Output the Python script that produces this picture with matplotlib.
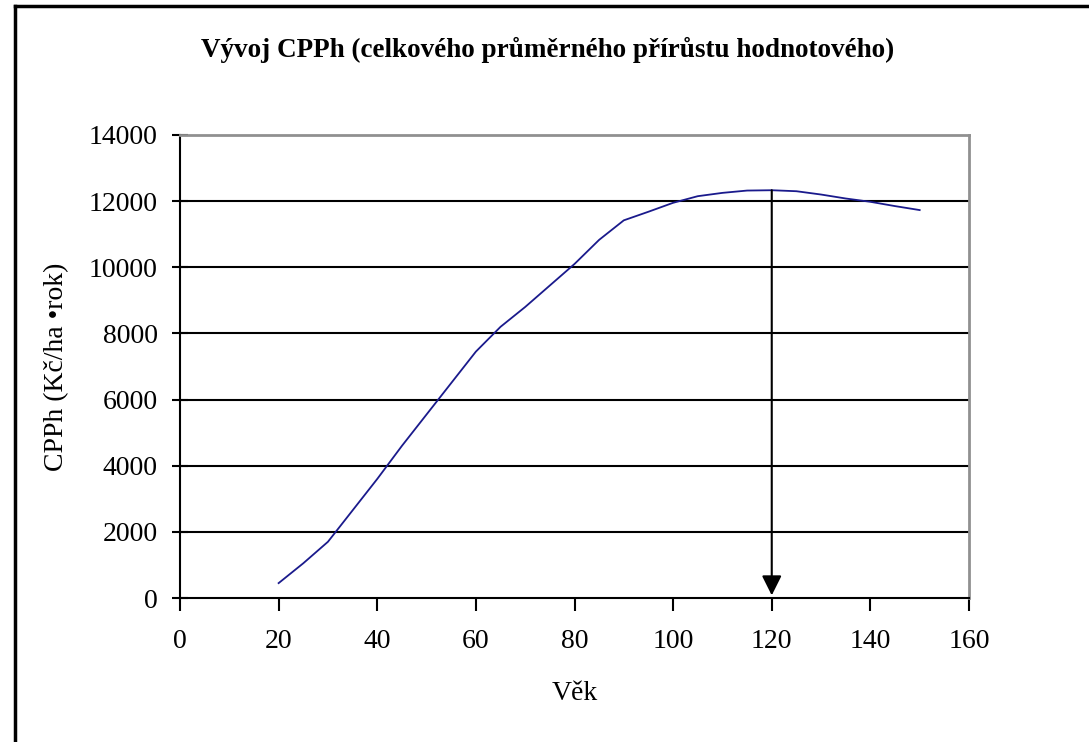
import matplotlib
matplotlib.use("Agg")
import matplotlib.pyplot as plt
from matplotlib.lines import Line2D

plt.rcParams['font.family'] = ['Liberation Serif', 'DejaVu Serif']

vek = [20, 25, 30, 35, 40, 45, 50, 55, 60, 65, 70, 75, 80, 85, 90, 95, 100,
       105, 110, 115, 120, 125, 130, 135, 140, 145, 150]
cpph = [450, 1050, 1700, 2650, 3600, 4600, 5550, 6500, 7450, 8200, 8800, 9450,
        10100, 10830, 11420, 11680, 11950, 12150, 12250, 12320, 12330, 12300,
        12200, 12080, 11980, 11850, 11730]
arrow_x = 120
arrow_top = 12330
xticks = [0, 20, 40, 60, 80, 100, 120, 140, 160]
yticks = [0, 2000, 4000, 6000, 8000, 10000, 12000, 14000]

fig = plt.figure(figsize=(10.89, 7.42), dpi=100)
ax = fig.add_axes([180/1089, 1-598/742, (969-180)/1089, (598-135)/742])

for yv in yticks[1:-1]:
    ax.axhline(yv, color='black', lw=1.5, zorder=1)

ax.plot(vek, cpph, color='#1a1a8c', lw=1.3, zorder=3)
ax.annotate('', xy=(arrow_x, 80), xytext=(arrow_x, arrow_top),
            arrowprops=dict(arrowstyle='-|>,head_length=1.2,head_width=0.6',
                            color='black', lw=1.5, shrinkA=0, shrinkB=0),
            zorder=4)

ax.set_xlim(0, 160)
ax.set_ylim(0, 14000)
ax.set_xticks(xticks)
ax.set_yticks(yticks)
ax.tick_params(axis='y', direction='inout', length=12, width=1.5, labelsize=20, pad=10)
ax.tick_params(axis='x', direction='out', length=9, width=1.5, labelsize=20, pad=13)
for s in ['top', 'right']:
    ax.spines[s].set_color('#909090')
    ax.spines[s].set_linewidth(2)
for s in ['left', 'bottom']:
    ax.spines[s].set_color('black')
    ax.spines[s].set_linewidth(1.5)

ax.set_xlabel('Věk', fontsize=20, labelpad=20)
ax.set_ylabel('CPPh (Kč/ha •rok)', fontsize=20, labelpad=14)

fig.text(548/1089, 1-50/742, 'Vývoj CPPh (celkového průměrného přírůstu hodnotového)',
         ha='center', va='center', fontsize=19.5, fontweight='bold')

fig.add_artist(Line2D([15/1089, 15/1089], [0, 1-6/742], color='black', lw=2.5,
                      transform=fig.transFigure))
fig.add_artist(Line2D([15/1089, 1], [1-6/742, 1-6/742], color='black', lw=2.5,
                      transform=fig.transFigure))

fig.savefig('out.png', dpi=100)
